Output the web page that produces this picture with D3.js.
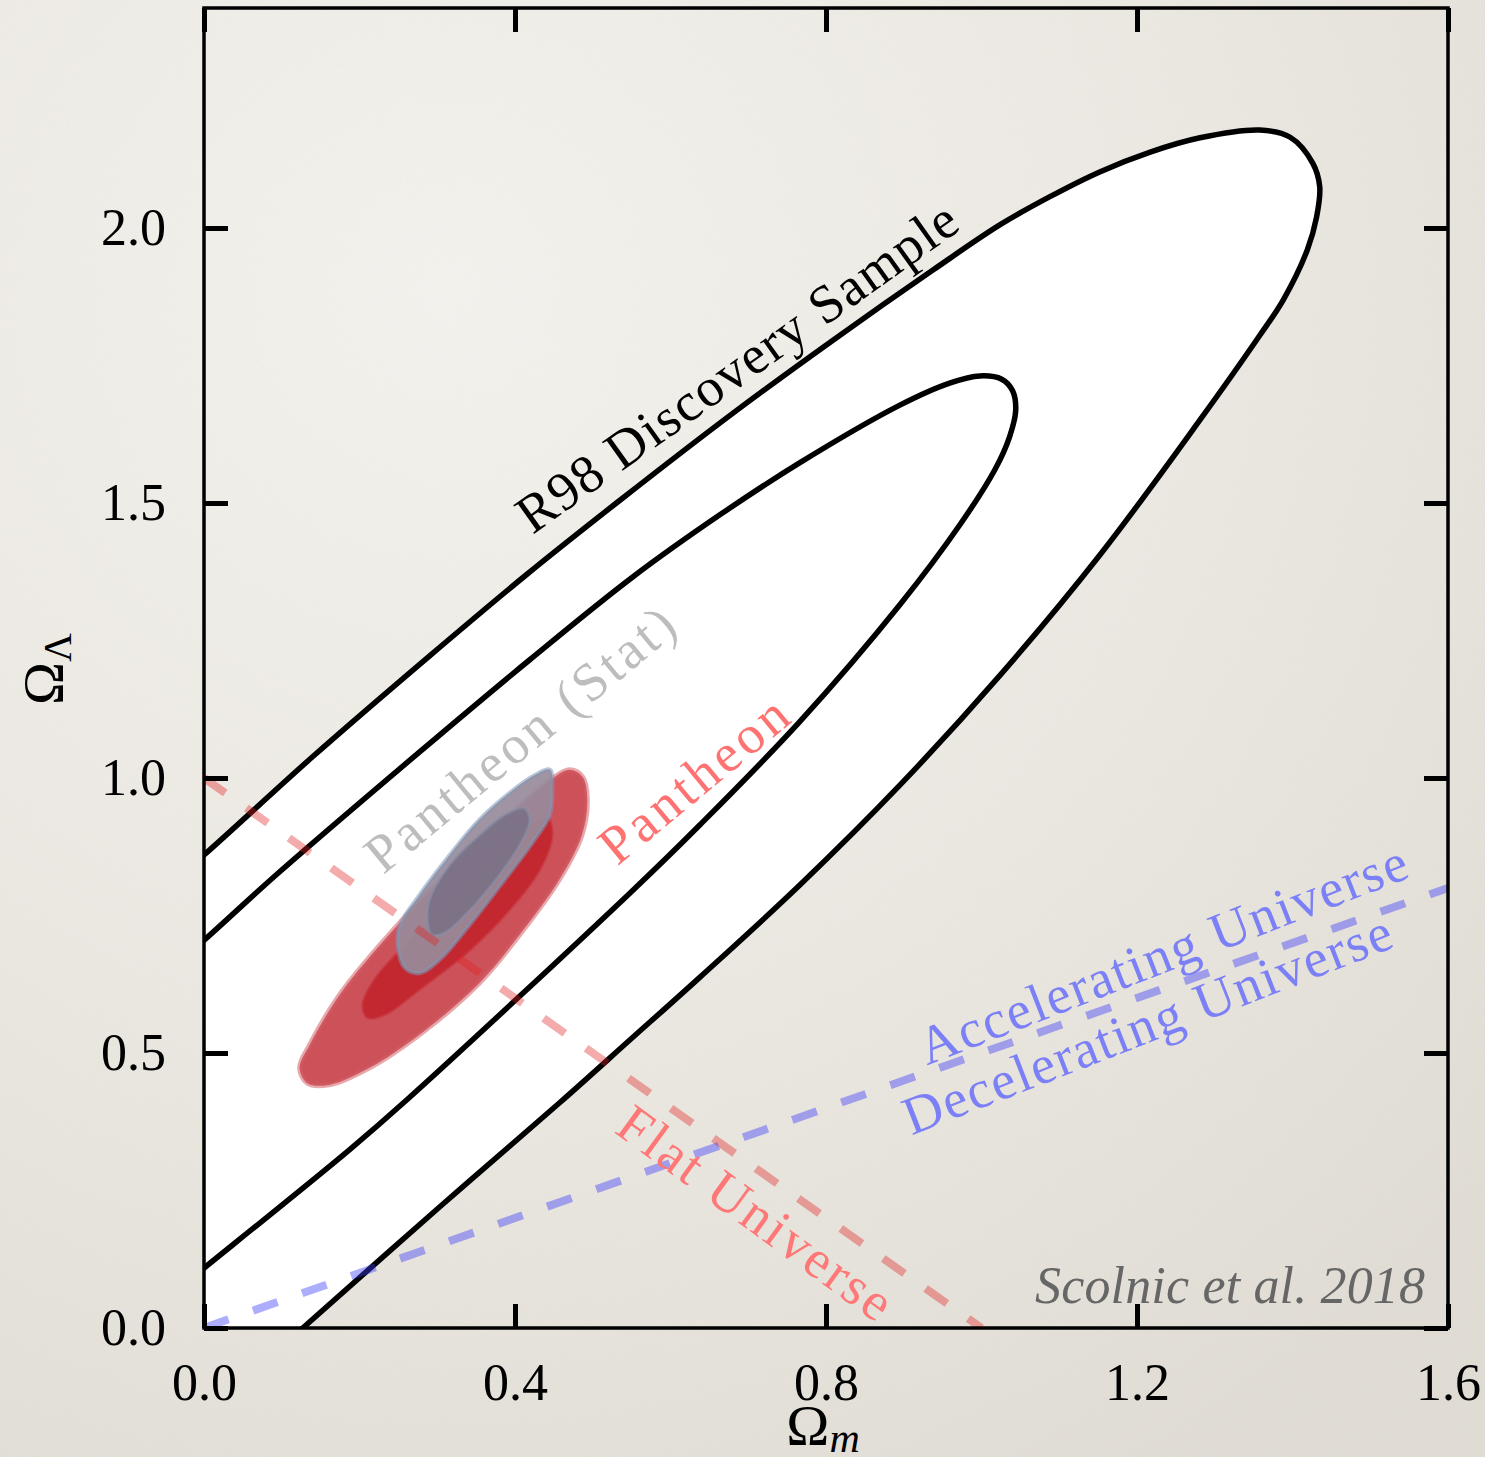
<!DOCTYPE html>
<html>
<head>
<meta charset="utf-8">
<script src="https://cdn.jsdelivr.net/npm/d3@7"></script>
<style>
  html, body { margin: 0; padding: 0; background: #ece9e2; }
  svg { display: block; }
  text { font-family: "Liberation Serif", "DejaVu Serif", serif; }
</style>
</head>
<body>
<svg id="chart" width="1485" height="1457"></svg>
<script>
// ---- axis ticks ----
const omegaMTicks = [0.0, 0.4, 0.8, 1.2, 1.6];
const omegaLTicks = [0.0, 0.5, 1.0, 1.5, 2.0];

// ---- R98 discovery sample confidence contours (Omega_m, Omega_Lambda) ----
const r98Outer = [
  [-0.05, 0.80], [0.0, 0.86], [0.140, 1.039], [0.291, 1.223], [0.415, 1.370],
  [0.535, 1.505], [0.680, 1.663], [0.809, 1.796], [0.938, 1.924], [1.024, 2.006],
  [1.088, 2.057], [1.152, 2.102], [1.217, 2.138], [1.281, 2.164], [1.358, 2.178],
  [1.397, 2.165], [1.426, 2.118], [1.435, 2.075], [1.431, 2.020], [1.419, 1.960],
  [1.388, 1.869], [1.358, 1.805], [1.281, 1.651], [1.152, 1.405], [1.024, 1.187],
  [0.895, 0.987], [0.766, 0.805], [0.638, 0.638], [0.548, 0.524], [0.457, 0.409],
  [0.303, 0.220], [0.127, 0.0], [0.087, -0.05]
];
const r98Inner = [
  [-0.05, 0.644], [0.0, 0.705], [0.097, 0.829], [0.277, 1.047], [0.419, 1.215],
  [0.551, 1.365], [0.663, 1.478], [0.766, 1.573], [0.895, 1.678], [0.959, 1.718],
  [0.998, 1.731], [1.026, 1.725], [1.040, 1.704], [1.044, 1.669], [1.036, 1.620],
  [1.017, 1.560], [0.972, 1.460], [0.895, 1.315], [0.766, 1.102], [0.638, 0.915],
  [0.548, 0.791], [0.261, 0.415], [0.187, 0.324], [0.0, 0.109], [-0.05, 0.052]
];

// ---- Pantheon contours (stat+sys) ----
const pantheonOuter = [
  [0.123, 0.473], [0.136, 0.515], [0.174, 0.605], [0.226, 0.696], [0.312, 0.827],
  [0.397, 0.938], [0.445, 0.996], [0.470, 1.015], [0.487, 1.002], [0.493, 0.960],
  [0.486, 0.896], [0.457, 0.815], [0.406, 0.715], [0.354, 0.627], [0.277, 0.533],
  [0.213, 0.473], [0.161, 0.442], [0.133, 0.445]
];
const pantheonInner = [
  [0.204, 0.587], [0.219, 0.633], [0.252, 0.687], [0.303, 0.760], [0.367, 0.851],
  [0.419, 0.915], [0.442, 0.927], [0.448, 0.896], [0.432, 0.833], [0.393, 0.760],
  [0.342, 0.687], [0.277, 0.615], [0.232, 0.569], [0.210, 0.564]
];

// ---- Pantheon contours (stat only) ----
const statOuter = [
  [0.249, 0.696], [0.252, 0.733], [0.277, 0.787], [0.316, 0.860], [0.354, 0.924],
  [0.393, 0.973], [0.425, 1.005], [0.445, 1.015], [0.448, 0.978], [0.445, 0.933],
  [0.425, 0.887], [0.387, 0.815], [0.342, 0.733], [0.303, 0.669], [0.277, 0.645],
  [0.258, 0.655]
];
const statInner = [
  [0.288, 0.733], [0.290, 0.778], [0.316, 0.842], [0.354, 0.896], [0.387, 0.933],
  [0.412, 0.945], [0.419, 0.924], [0.406, 0.878], [0.380, 0.824], [0.342, 0.760],
  [0.309, 0.718], [0.293, 0.715]
];

// ---- reference lines ----
const flatUniverse = [[0.0, 1.0], [1.0, 0.0]];      // Omega_m + Omega_Lambda = 1
const noAcceleration = [[0.0, 0.0], [1.6, 0.8]];    // q0 = 0 : Omega_Lambda = Omega_m / 2

// ---- annotation text ----
const contourLabels = ["R98 Discovery Sample", "Pantheon (Stat)", "Pantheon"];
const lineLabels = ["Accelerating Universe", "Decelerating Universe", "Flat Universe"];
const credit = "Scolnic et al. 2018";

// =====================================================================
const W = 1485, H = 1457;
const svg = d3.select("#chart");
const x = d3.scaleLinear().domain([0, 1.6]).range([204, 1448]);
const y = d3.scaleLinear().domain([0, 2.4]).range([1328, 8]);

const defs = svg.append("defs");
const grad = defs.append("radialGradient").attr("id", "paperGrad")
  .attr("cx", "30%").attr("cy", "20%").attr("r", "95%");
grad.append("stop").attr("offset", "0%").attr("stop-color", "#f5f3ee");
grad.append("stop").attr("offset", "55%").attr("stop-color", "#ece9e2");
grad.append("stop").attr("offset", "100%").attr("stop-color", "#e1ddd5");

const grain = defs.append("filter").attr("id", "grain")
  .attr("x", 0).attr("y", 0).attr("width", "100%").attr("height", "100%");
grain.append("feTurbulence").attr("type", "fractalNoise")
  .attr("baseFrequency", 0.75).attr("numOctaves", 3).attr("seed", 4).attr("result", "noise");
grain.append("feColorMatrix").attr("type", "saturate").attr("values", 0);

defs.append("clipPath").attr("id", "plotClip")
  .append("rect").attr("x", x(0)).attr("y", y(2.4))
  .attr("width", x(1.6) - x(0)).attr("height", y(0) - y(2.4));

// paper background
svg.append("rect").attr("width", W).attr("height", H).attr("fill", "url(#paperGrad)");
svg.append("rect").attr("width", W).attr("height", H)
  .attr("filter", "url(#grain)").attr("opacity", 0.07);

const plot = svg.append("g").attr("clip-path", "url(#plotClip)");

const open = d3.line().x(d => x(d[0])).y(d => y(d[1])).curve(d3.curveCatmullRom.alpha(0.5));
const closed = d3.line().x(d => x(d[0])).y(d => y(d[1])).curve(d3.curveCatmullRomClosed.alpha(0.5));
const straight = d3.line().x(d => x(d[0])).y(d => y(d[1]));

// R98 region: white fill bounded by the outer contour and the axes
plot.append("path")
  .attr("d", open(r98Outer) + "L" + x(-0.3) + "," + y(-0.3) + "Z")
  .attr("fill", "#ffffff");

// Pantheon (stat + sys)
plot.append("path").attr("d", closed(pantheonOuter))
  .attr("fill", "#cd5159").attr("stroke", "rgba(212,96,104,0.55)").attr("stroke-width", 5);
plot.append("path").attr("d", closed(pantheonInner))
  .attr("fill", "#c3272f").attr("stroke", "rgba(200,50,58,0.5)").attr("stroke-width", 3);
// Pantheon (stat only)
plot.append("path").attr("d", closed(statOuter))
  .attr("fill", "#988b9b").attr("fill-opacity", 0.92)
  .attr("stroke", "rgba(128,152,182,0.55)").attr("stroke-width", 4);
plot.append("path").attr("d", closed(statInner))
  .attr("fill", "#7b7185").attr("fill-opacity", 0.92)
  .attr("stroke", "rgba(138,146,172,0.5)").attr("stroke-width", 3);

// R98 contour lines
[r98Outer, r98Inner].forEach(c => {
  plot.append("path").attr("d", open(c))
    .attr("fill", "none").attr("stroke", "#000").attr("stroke-width", 5.5)
    .attr("stroke-linejoin", "round");
});

// reference lines
plot.append("path").attr("d", straight(flatUniverse))
  .attr("fill", "none").attr("stroke", "rgba(225,35,35,0.38)")
  .attr("stroke-width", 8).attr("stroke-dasharray", "26,26");
plot.append("path").attr("d", straight(noAcceleration))
  .attr("fill", "none").attr("stroke", "rgba(60,60,250,0.42)")
  .attr("stroke-width", 8).attr("stroke-dasharray", "26,26");

// ---- annotations ----
const FS = 54;
function label(txt, cx, cy, angle, len, color, dy) {
  svg.append("text")
    .attr("transform", `translate(${x(cx)},${y(cy)}) rotate(${angle})`)
    .attr("text-anchor", "middle").attr("dy", dy)
    .attr("font-size", FS).attr("fill", color)
    .attr("textLength", len).attr("lengthAdjust", "spacing")
    .text(txt);
}
label(contourLabels[0], 0.690, 1.738, -35.5, 528, "#000000", "0.22em");
label(contourLabels[1], 0.410, 1.064, -39.5, 384, "#bdbdbd", "0.25em");
label(contourLabels[2], 0.630, 0.996, -39.5, 228, "#ff7272", "0.33em");
label(lineLabels[0], 1.236, 0.669, -21.3, 520, "#7c80f6", "0.22em");
label(lineLabels[1], 1.216, 0.542, -21.3, 520, "#7c80f6", "0.22em");
label(lineLabels[2], 0.709, 0.209, 36, 326, "#ff7878", "0.33em");

svg.append("text").attr("x", 1425).attr("y", 1303)
  .attr("text-anchor", "end").attr("font-style", "italic")
  .attr("font-size", 52).attr("fill", "#666666")
  .attr("textLength", 390).attr("lengthAdjust", "spacing")
  .text(credit);

// ---- axes ----
const fmt = d3.format(".1f");
const TICK = 24;
function styleAxis(g) {
  g.select(".domain").remove();
  g.selectAll(".tick line").attr("stroke", "#000").attr("stroke-width", 5);
  g.selectAll(".tick text").attr("fill", "#000").attr("font-size", 52)
    .attr("font-family", "'Liberation Serif', 'DejaVu Serif', serif");
}
svg.append("g").attr("transform", `translate(0,${y(0)})`)
  .call(d3.axisBottom(x).tickValues(omegaMTicks).tickFormat(fmt)
    .tickSizeInner(-TICK).tickSizeOuter(0).tickPadding(35))
  .call(styleAxis);
svg.append("g").attr("transform", `translate(0,${y(2.4)})`)
  .call(d3.axisTop(x).tickValues(omegaMTicks).tickFormat("")
    .tickSizeInner(-TICK).tickSizeOuter(0))
  .call(styleAxis);
svg.append("g").attr("transform", `translate(${x(0)},0)`)
  .call(d3.axisLeft(y).tickValues(omegaLTicks).tickFormat(fmt)
    .tickSizeInner(-TICK).tickSizeOuter(0).tickPadding(38))
  .call(styleAxis);
svg.append("g").attr("transform", `translate(${x(1.6)},0)`)
  .call(d3.axisRight(y).tickValues(omegaLTicks).tickFormat("")
    .tickSizeInner(-TICK).tickSizeOuter(0))
  .call(styleAxis);

// frame
svg.append("rect")
  .attr("x", x(0)).attr("y", y(2.4))
  .attr("width", x(1.6) - x(0)).attr("height", y(0) - y(2.4))
  .attr("fill", "none").attr("stroke", "#000").attr("stroke-width", 3.5);

// axis titles
const xt = svg.append("text").attr("x", 823).attr("y", 1445)
  .attr("text-anchor", "middle").attr("font-size", 58).attr("fill", "#000");
xt.append("tspan").text("Ω");
xt.append("tspan").attr("font-style", "italic").attr("font-size", 42).attr("dy", 7).text("m");

const yt = svg.append("text")
  .attr("transform", "translate(63,669) rotate(-90)")
  .attr("text-anchor", "middle").attr("font-size", 58).attr("fill", "#000");
yt.append("tspan").text("Ω");
yt.append("tspan").attr("font-size", 40).attr("dy", 8).text("Λ");
</script>
</body>
</html>
